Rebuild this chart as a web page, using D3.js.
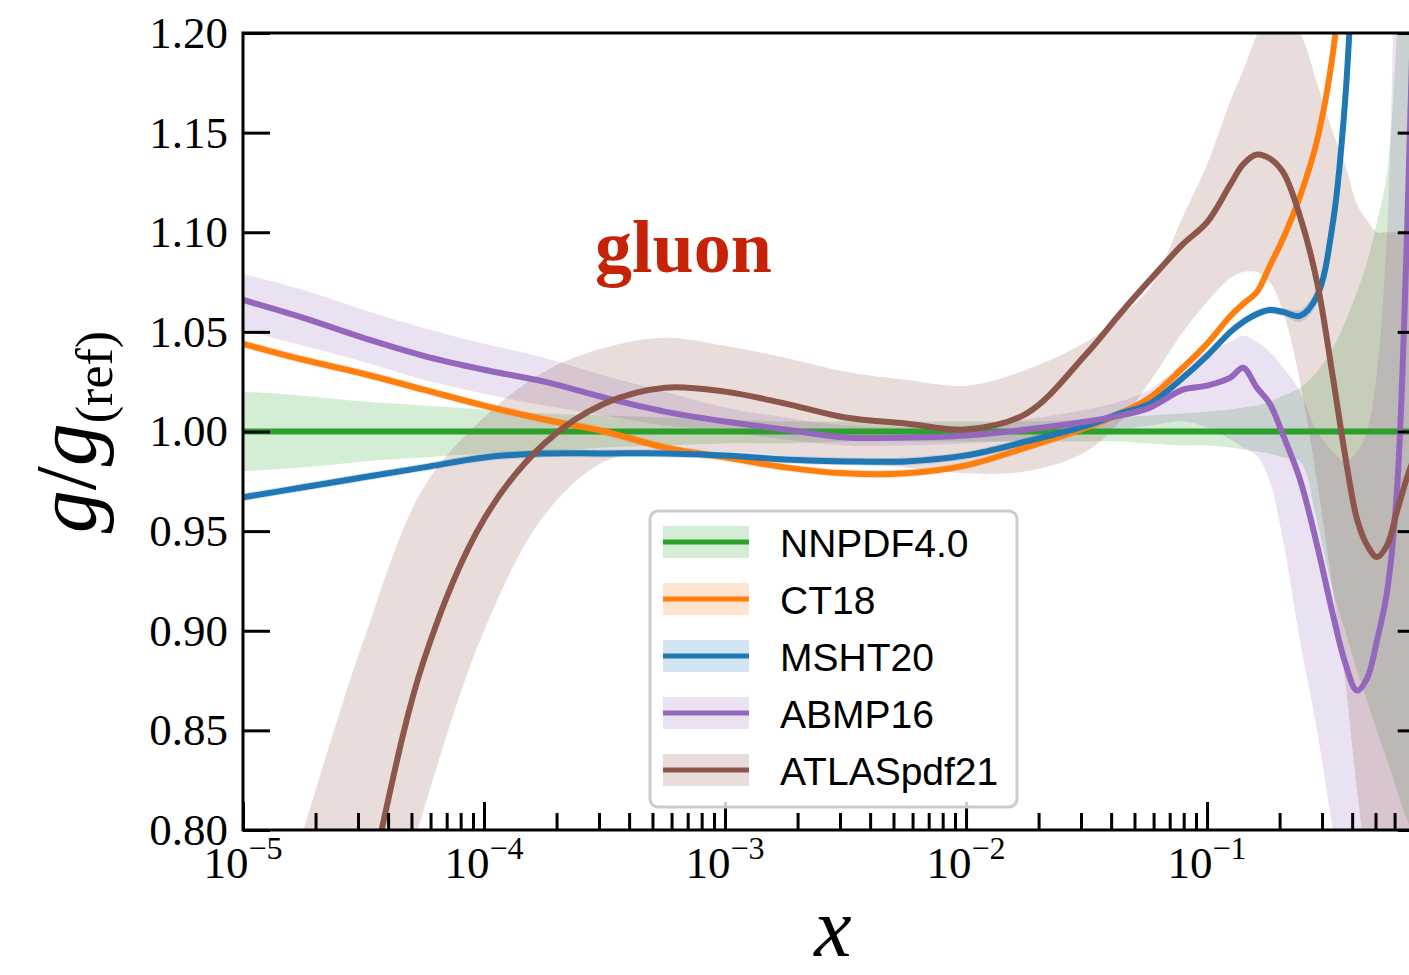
<!DOCTYPE html>
<html>
<head>
<meta charset="utf-8">
<title>gluon ratio</title>
<script src="https://cdn.jsdelivr.net/npm/d3@7"></script>
<style>
  body { margin: 0; background: #fff; }
  svg { display: block; }
</style>
</head>
<body>
<div id="chart"></div>
<script>
// x grid shared by all sets
const xs = [1e-5, 1.78e-5, 3.16e-5, 5.62e-5, 1e-4, 1.78e-4, 3.16e-4, 5.62e-4, 1e-3, 1.78e-3,
  3.16e-3, 5.62e-3, 0.01, 0.0178, 0.0316, 0.0435, 0.0579, 0.0794, 0.1, 0.125,
  0.141, 0.161, 0.182, 0.207, 0.243, 0.286, 0.333, 0.374, 0.419, 0.461,
  0.507, 0.559, 0.614, 0.676, 0.766];

const nnpdfMid = [1, 1, 1, 1, 1, 1, 1, 1, 1, 1, 1, 1, 1, 1, 1, 1, 1, 1, 1, 1,
  1, 1, 1, 1, 1, 1, 1, 1, 1, 1, 1, 1, 1, 1, 1];
const nnpdfLo = [0.980, 0.982, 0.985, 0.987, 0.989, 0.990, 0.992, 0.993, 0.994, 0.994,
  0.995, 0.995, 0.995, 0.995, 0.995, 0.995, 0.994, 0.993, 0.993, 0.992,
  0.991, 0.990, 0.989, 0.987, 0.985, 0.955, 0.920, 0.900, 0.880, 0.865,
  0.850, 0.835, 0.820, 0.805, 0.790];
const nnpdfHi = [1.020, 1.018, 1.015, 1.013, 1.011, 1.009, 1.008, 1.007, 1.006, 1.005,
  1.005, 1.005, 1.005, 1.005, 1.006, 1.007, 1.008, 1.009, 1.010, 1.011,
  1.012, 1.013, 1.015, 1.018, 1.022, 1.030, 1.042, 1.055, 1.070, 1.085,
  1.105, 1.130, 1.200, 1.280, 1.350];

const ct18Mid = [1.044, 1.036, 1.029, 1.021, 1.013, 1.006, 1.000, 0.992, 0.987, 0.982,
  0.979, 0.979, 0.983, 0.992, 1.002, 1.009, 1.017, 1.032, 1.044, 1.058,
  1.064, 1.070, 1.083, 1.097, 1.118, 1.146, 1.190, 1.250, 1.300, 1.380,
  1.470, 1.570, 1.680, 1.800, 2.000];
const ct18Lo = [1.042, 1.034, 1.027, 1.019, 1.011, 1.004, 0.998, 0.990, 0.985, 0.980,
  0.977, 0.977, 0.981, 0.990, 1.000, 1.007, 1.015, 1.030, 1.042, 1.056,
  1.062, 1.068, 1.081, 1.095, 1.115, 1.142, 1.184, 1.240, 1.285, 1.360,
  1.445, 1.540, 1.640, 1.750, 1.940];
const ct18Hi = [1.046, 1.038, 1.031, 1.023, 1.015, 1.008, 1.002, 0.994, 0.989, 0.984,
  0.981, 0.981, 0.985, 0.994, 1.004, 1.011, 1.019, 1.034, 1.046, 1.060,
  1.066, 1.072, 1.085, 1.099, 1.121, 1.150, 1.196, 1.260, 1.315, 1.400,
  1.495, 1.600, 1.720, 1.850, 2.060];

const mshtMid = [0.967, 0.972, 0.977, 0.982, 0.987, 0.989, 0.989, 0.989, 0.988, 0.986,
  0.985, 0.985, 0.988, 0.995, 1.003, 1.009, 1.014, 1.027, 1.038, 1.050,
  1.055, 1.059, 1.061, 1.060, 1.058, 1.068, 1.105, 1.166, 1.280, 1.400,
  1.550, 1.700, 1.900, 2.100, 2.400];
const mshtLo = [0.965, 0.970, 0.975, 0.980, 0.985, 0.987, 0.987, 0.987, 0.986, 0.984,
  0.983, 0.983, 0.986, 0.993, 1.001, 1.007, 1.012, 1.025, 1.036, 1.048,
  1.053, 1.057, 1.059, 1.058, 1.055, 1.064, 1.098, 1.155, 1.265, 1.380,
  1.525, 1.670, 1.860, 2.050, 2.340];
const mshtHi = [0.969, 0.974, 0.979, 0.984, 0.989, 0.991, 0.991, 0.991, 0.990, 0.988,
  0.987, 0.987, 0.990, 0.997, 1.005, 1.011, 1.016, 1.029, 1.040, 1.052,
  1.057, 1.061, 1.063, 1.062, 1.061, 1.072, 1.112, 1.177, 1.295, 1.420,
  1.575, 1.730, 1.940, 2.150, 2.460];

const abmpMid = [1.066, 1.057, 1.047, 1.038, 1.031, 1.025, 1.017, 1.010, 1.005, 1.001,
  0.997, 0.997, 0.998, 1.001, 1.005, 1.008, 1.012, 1.021, 1.023, 1.027,
  1.032, 1.022, 1.014, 0.998, 0.976, 0.943, 0.908, 0.884, 0.870, 0.876,
  0.895, 0.920, 0.971, 1.100, 1.350];
const abmpLo = [1.051, 1.043, 1.035, 1.026, 1.019, 1.013, 1.008, 1.003, 1.000, 0.996,
  0.993, 0.993, 0.994, 0.996, 0.999, 1.001, 1.003, 1.005, 1.002, 0.996,
  0.992, 0.988, 0.975, 0.945, 0.895, 0.850, 0.800, 0.765, 0.730, 0.700,
  0.680, 0.660, 0.650, 0.640, 0.620];
const abmpHi = [1.079, 1.071, 1.061, 1.052, 1.044, 1.037, 1.028, 1.020, 1.012, 1.007,
  1.003, 1.002, 1.003, 1.006, 1.011, 1.015, 1.021, 1.034, 1.040, 1.045,
  1.048, 1.045, 1.040, 1.032, 1.020, 1.000, 0.990, 0.985, 0.990, 1.000,
  1.030, 1.100, 1.250, 1.300, 1.400];

const atlasMid = [0.500, 0.640, 0.760, 0.885, 0.956, 0.994, 1.014, 1.022, 1.020, 1.014,
  1.007, 1.004, 1.001, 1.009, 1.039, 1.059, 1.076, 1.094, 1.105, 1.124,
  1.134, 1.139, 1.137, 1.130, 1.108, 1.075, 1.027, 0.988, 0.956, 0.943,
  0.937, 0.943, 0.960, 0.977, 0.995];
const atlasLo = [0.200, 0.550, 0.700, 0.810, 0.900, 0.958, 0.985, 0.990, 0.990, 0.988,
  0.985, 0.982, 0.979, 0.980, 0.990, 1.005, 1.025, 1.050, 1.065, 1.077,
  1.080, 1.080, 1.075, 1.060, 1.025, 0.975, 0.920, 0.875, 0.820, 0.780,
  0.740, 0.700, 0.670, 0.640, 0.600];
const atlasHi = [0.700, 0.800, 0.895, 0.972, 1.007, 1.030, 1.042, 1.047, 1.043, 1.037,
  1.030, 1.026, 1.023, 1.031, 1.045, 1.058, 1.072, 1.108, 1.134, 1.166,
  1.181, 1.199, 1.210, 1.210, 1.200, 1.175, 1.150, 1.134, 1.114, 1.106,
  1.100, 1.100, 1.100, 1.100, 1.100];

const names = ["NNPDF4.0", "CT18", "MSHT20", "ABMP16", "ATLASpdf21"];
const colors = ["#2ca02c", "#ff7f0e", "#1f77b4", "#9467bd", "#8c564b"];
const yTicks = [0.80, 0.85, 0.90, 0.95, 1.00, 1.05, 1.10, 1.15, 1.20];
const xMajor = [1e-5, 1e-4, 1e-3, 1e-2, 1e-1];
const xExp = ["\u22125", "\u22124", "\u22123", "\u22122", "\u22121"];
const xMinor = [2, 3, 4, 5, 6, 7, 8, 9].flatMap(m => xMajor.map(d => m * d)).filter(v => v < 0.8);

const sets = [
  { mid: nnpdfMid, lo: nnpdfLo, hi: nnpdfHi },
  { mid: ct18Mid, lo: ct18Lo, hi: ct18Hi },
  { mid: mshtMid, lo: mshtLo, hi: mshtHi },
  { mid: abmpMid, lo: abmpLo, hi: abmpHi },
  { mid: atlasMid, lo: atlasLo, hi: atlasHi }
].map((s, i) => ({ ...s, name: names[i], color: colors[i] }));

const W = 1409, H = 975;
const box = { left: 243, right: 1424.7, top: 33, bottom: 830 };
const serif = "'Liberation Serif', 'DejaVu Serif', serif";
const sans = "'Liberation Sans', Arial, sans-serif";

const svg = d3.select("#chart").append("svg").attr("width", W).attr("height", H);

const x = d3.scaleLog().domain([1e-5, 0.8]).range([box.left, box.right]);
const y = d3.scaleLinear().domain([0.8, 1.2]).range([box.bottom, box.top]);

svg.append("clipPath").attr("id", "plotclip")
  .append("rect").attr("x", box.left).attr("y", box.top)
  .attr("width", box.right - box.left).attr("height", box.bottom - box.top);

const plot = svg.append("g").attr("clip-path", "url(#plotclip)");

const curve = d3.curveCatmullRom.alpha(0.5);
const area = s => d3.area().curve(curve)
  .x((d, i) => x(xs[i])).y0((d, i) => y(s.lo[i])).y1((d, i) => y(s.hi[i]))(xs);
const line = s => d3.line().curve(curve)
  .x((d, i) => x(xs[i])).y((d, i) => y(s.mid[i]))(xs);

// bands first, central lines on top
sets.forEach(s => {
  plot.append("path").attr("d", area(s)).attr("fill", s.color).attr("fill-opacity", 0.2);
});
sets.forEach(s => {
  plot.append("path").attr("d", line(s)).attr("fill", "none")
    .attr("stroke", s.color).attr("stroke-width", 6).attr("stroke-linejoin", "round");
});

// axes (ticks pointing inward)
const yAxis = svg.append("g").attr("transform", `translate(${box.left},0)`)
  .call(d3.axisLeft(y).tickValues(yTicks).tickSize(-27).tickPadding(15).tickFormat(d3.format(".2f")));
svg.append("g").attr("transform", `translate(${box.right},0)`)
  .call(d3.axisRight(y).tickValues(yTicks).tickSize(-27).tickFormat(""));
svg.append("g").attr("transform", `translate(0,${box.bottom})`)
  .call(d3.axisBottom(x).tickValues(xMajor).tickSize(-28).tickFormat(""));
svg.append("g").attr("transform", `translate(0,${box.bottom})`)
  .call(d3.axisBottom(x).tickValues(xMinor).tickSize(-17).tickFormat(""));

svg.selectAll(".domain").remove();
svg.selectAll(".tick line").attr("stroke", "#000").attr("stroke-width", 3);
yAxis.selectAll("text").attr("font-family", serif).attr("font-size", 45).attr("fill", "#000");

xMajor.forEach((v, i) => {
  const t = svg.append("text").attr("x", x(v)).attr("y", 878)
    .attr("text-anchor", "middle").attr("font-family", serif).attr("font-size", 45);
  t.append("tspan").text("10");
  t.append("tspan").attr("dy", -19).attr("font-size", 32).text(xExp[i]);
});

// frame
svg.append("rect").attr("x", box.left).attr("y", box.top)
  .attr("width", box.right - box.left).attr("height", box.bottom - box.top)
  .attr("fill", "none").attr("stroke", "#000").attr("stroke-width", 3);

// axis titles
svg.append("text").attr("x", 833).attr("y", 956).attr("text-anchor", "middle")
  .attr("font-family", serif).attr("font-style", "italic").attr("font-size", 84).text("x");

const yl = svg.append("text").attr("transform", "translate(95,432) rotate(-90)")
  .attr("text-anchor", "middle").attr("font-family", serif).attr("font-size", 86);
yl.append("tspan").attr("font-style", "italic").text("g");
yl.append("tspan").text("/");
yl.append("tspan").attr("font-style", "italic").text("g");
yl.append("tspan").attr("font-size", 52).attr("dy", 17).text("(ref)");

svg.append("text").attr("x", 595).attr("y", 272)
  .attr("font-family", serif).attr("font-weight", "bold").attr("font-size", 74)
  .attr("fill", "#c62208").text("gluon");

// legend
const lg = svg.append("g");
lg.append("rect").attr("x", 650).attr("y", 511).attr("width", 367).attr("height", 296)
  .attr("rx", 8).attr("fill", "#fff").attr("fill-opacity", 0.8)
  .attr("stroke", "#cccccc").attr("stroke-width", 3);
sets.forEach((s, i) => {
  const cy = 542 + i * 57;
  lg.append("rect").attr("x", 663).attr("y", cy - 16).attr("width", 86).attr("height", 32)
    .attr("fill", s.color).attr("fill-opacity", 0.2);
  lg.append("line").attr("x1", 663).attr("x2", 749).attr("y1", cy).attr("y2", cy)
    .attr("stroke", s.color).attr("stroke-width", 5);
  lg.append("text").attr("x", 780).attr("y", cy + 15)
    .attr("font-family", sans).attr("font-size", 39).text(s.name);
});
</script>
</body>
</html>
